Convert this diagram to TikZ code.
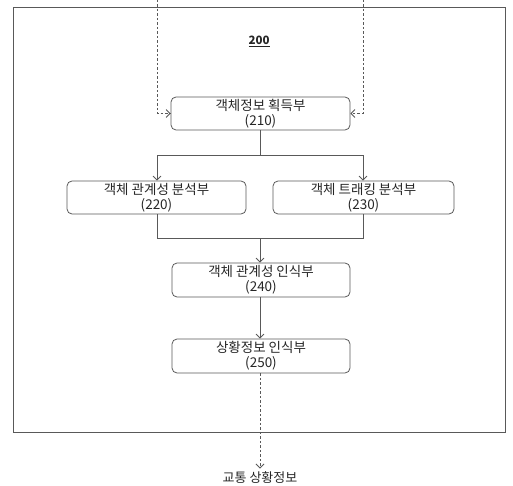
\documentclass[tikz,border=0pt]{standalone}
\usepackage{fontspec}
\setmainfont{Noto Sans CJK KR}
\usetikzlibrary{arrows.meta}
\begin{document}
\begin{tikzpicture}[x=1pt,y=-1pt,
  line/.style={draw=black!65,line width=0.8pt},
  arr/.style={line,-{Straight Barb[length=4pt,width=8pt]}},
  dsh/.style={dash pattern=on 2.5pt off 2pt},
  box/.style={line,rounded corners=5pt,align=center,font=\fontsize{13.5}{15}\selectfont,text=black!85,inner sep=0pt},
  lbl/.style={font=\fontsize{13}{14}\selectfont,text=black!85}]
\useasboundingbox (0,0) rectangle (513,486);
\node[line,minimum width=492pt,minimum height=425pt,inner sep=0pt] (frame) at (259,219.5) {};
\node[font=\bfseries\fontsize{11.5}{13}\selectfont,text=black!85] (title) at (259,41) {\underline{200}};
\node[box,minimum width=179pt,minimum height=33pt] (b210) at (260.5,113.5) {객체정보 획득부\\(210)};
\node[box,minimum width=179pt,minimum height=33pt] (b220) at (156.5,197.5) {객체 관계성 분석부\\(220)};
\node[box,minimum width=181pt,minimum height=33pt] (b230) at (363.5,197.5) {객체 트래킹 분석부\\(230)};
\node[box,minimum width=178pt,minimum height=34pt] (b240) at (261,280) {객체 관계성 인식부\\(240)};
\node[box,minimum width=178pt,minimum height=34pt] (b250) at (261,356) {상황정보 인식부\\(250)};
\node[lbl] (out) at (260,478) {교통 상황정보};
\coordinate (t1) at (157,0);
\coordinate (t2) at (363,0);
\coordinate (j1) at (260,155);
\coordinate (j2) at (260,238);
\draw[arr,dsh] (t1) |- (b210.west);
\draw[arr,dsh] (t2) |- (b210.east);
\draw[line] (b210.south -| j1) -- (j1);
\draw[arr] (j1) -| (b220.north -| t1);
\draw[arr] (j1) -| (b230.north -| t2);
\draw[line] (b220.south -| t1) |- (j2);
\draw[line] (b230.south -| t2) |- (j2);
\draw[arr] (j2) -- (b240.north -| j2);
\draw[arr] (b240.south -| j2) -- (b250.north -| j2);
\draw[arr,dsh] (b250.south -| j2) -- (out.north -| j2);
\end{tikzpicture}
\end{document}
